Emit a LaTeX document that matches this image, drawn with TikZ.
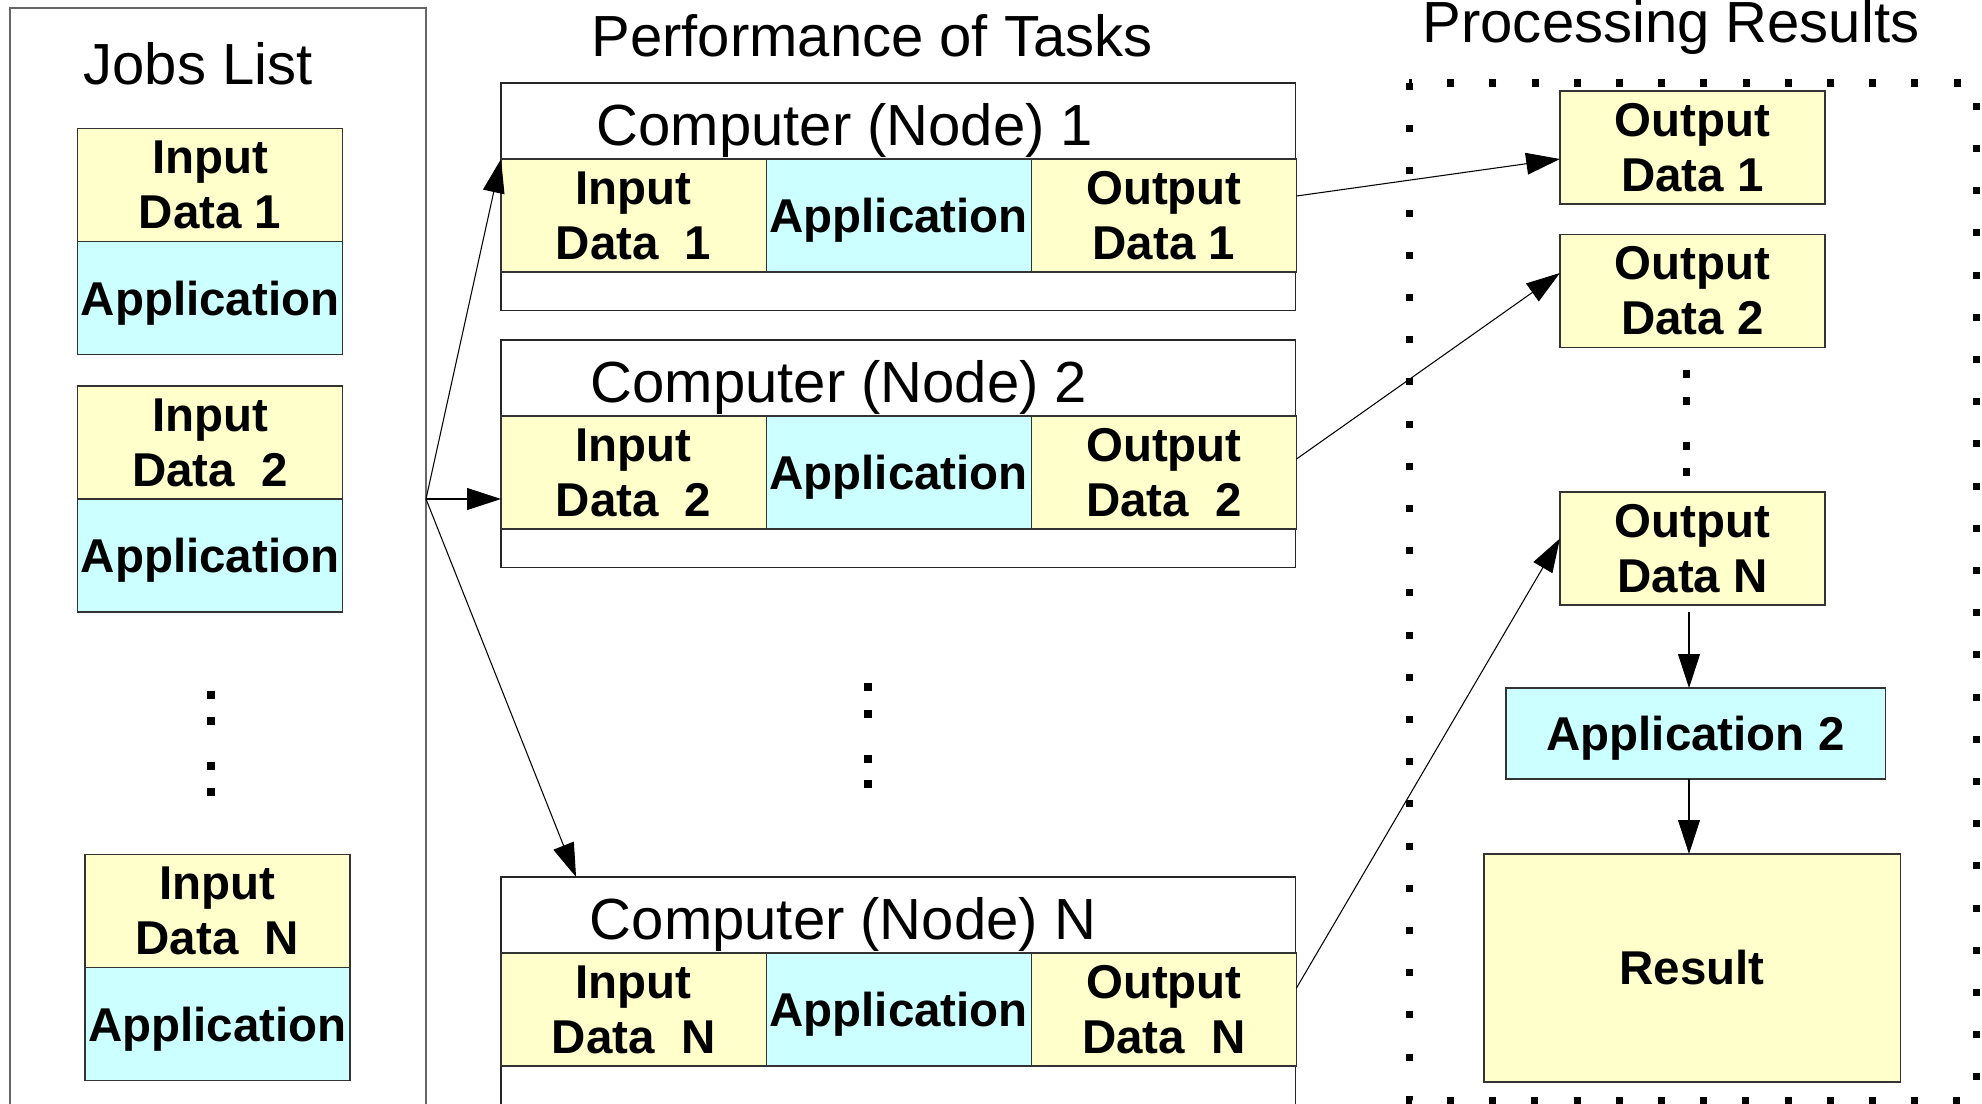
\documentclass[tikz,border=0pt]{standalone}
\usepackage{fontspec}
\setmainfont{Liberation Sans}
\usetikzlibrary{arrows.meta,positioning}
\definecolor{paleyellow}{HTML}{FFFFCC}
\definecolor{paleturq}{HTML}{CCFFFF}

\begin{document}
\begin{tikzpicture}[x=0.01cm, y=-0.01cm,
  title/.style={font=\fontsize{16.5}{20}\selectfont, anchor=base, inner sep=0},
  cell/.style={draw=black!80, line width=0.35pt, inner sep=0, outer sep=0, align=center,
    minimum width=2.65cm, minimum height=1.13cm, font=\fontsize{13.5}{15.6}\selectfont\bfseries},
  datacell/.style={cell, fill=paleyellow},
  appcell/.style={cell, fill=paleturq, text depth=0pt},
  compbox/.style={draw=black!85, line width=0.35pt, inner sep=0, outer sep=0,
    minimum width=7.94cm, minimum height=2.27cm, anchor=north west},
  link/.style={line width=0.3pt, -{Triangle[length=9.6pt,width=6.2pt]}},
  pip/.style={fill=black, inner sep=0, minimum size=2pt}]

\useasboundingbox (0,0) rectangle (1982,1103);
\clip (0,0) rectangle (1982,1103);
\fill[white] (0,0) rectangle (1982,1103);

% jobs list on the left
\draw[gray!80!black, line width=0.4pt] (10,8) rectangle (426,1140);
\node[title] (jobstitle) at (198,84) {Jobs List};

\node[datacell] (job1in) at (210,185) {Input\\Data 1};
\node[appcell, below=0pt of job1in] (job1app) {Application};

\node[datacell] (job2in) at (210,442.5) {Input\\Data~~2};
\node[appcell, below=0pt of job2in] (job2app) {Application};

\path (211,695) node[pip]{} (211,721) node[pip]{} (211,766) node[pip]{} (211,792) node[pip]{};

\node[datacell] (jobNin) at (217.5,911) {Input\\Data~~N};
\node[appcell, below=0pt of jobNin] (jobNapp) {Application};

% computers doing the work
\node[title] (perftitle) at (872,56) {Performance of Tasks};

\node[compbox] (comp1) at (501,83) {};
\node[title] (comp1title) at (845,145) {Computer (Node) 1};
\node[datacell, anchor=north west] (c1in) at (501,159) {Input\\Data~~1};
\node[appcell, right=0pt of c1in] (c1app) {Application};
\node[datacell, right=0pt of c1app] (c1out) {Output\\Data 1};

\node[compbox] (comp2) at (501,340) {};
\node[title] (comp2title) at (839,402) {Computer (Node) 2};
\node[datacell, anchor=north west] (c2in) at (501,416) {Input\\Data~~2};
\node[appcell, right=0pt of c2in] (c2app) {Application};
\node[datacell, right=0pt of c2app] (c2out) {Output\\Data~~2};

\path (868,687) node[pip]{} (868,714) node[pip]{} (868,759) node[pip]{} (868,784) node[pip]{};

\node[compbox] (compN) at (501,877) {};
\node[title] (compNtitle) at (843,939) {Computer (Node) N};
\node[datacell, anchor=north west] (cNin) at (501,953) {Input\\Data~~N};
\node[appcell, right=0pt of cNin] (cNapp) {Application};
\node[datacell, right=0pt of cNapp] (cNout) {Output\\Data~~N};

% results side
\node[title] (restitle) at (1671,42) {Processing Results};
\draw[line width=2pt, dash pattern=on 2pt off 10pt] (1409,83) rectangle (1976,1100);

\node[datacell] (out1) at (1692.5,147.5) {Output\\Data 1};
\node[datacell] (out2) at (1692.5,291) {Output\\Data 2};
\path (1686,374) node[pip]{} (1686,401) node[pip]{} (1686,446) node[pip]{} (1686,472) node[pip]{};
\node[datacell] (outN) at (1692.5,548.5) {Output\\Data N};
\node[appcell, minimum width=3.79cm, minimum height=0.91cm] (app2) at (1695.5,733.5) {Application 2};
\node[datacell, minimum width=4.16cm, minimum height=2.28cm] (result) at (1692,968) {Result};

% jobs handed out
\coordinate (fork) at (426,499);
\draw[link] (fork) -- (c1in.north west);
\draw[link] (fork) -- (fork -| comp2.west);
\draw[link] (fork) -- ([xshift=0.75cm]compN.north west);

% outputs collected
\draw[link] ([yshift=-0.37cm]c1out.north east) -- ([yshift=-0.115cm]out1.west);
\draw[link] ([yshift=-0.43cm]c2out.north east) -- ([yshift=0.18cm]out2.west);
\draw[link] ([yshift=-0.35cm]cNout.north east) -- ([yshift=0.1cm]outN.west);
\draw[link, shorten <=2pt] ([xshift=-0.035cm]outN.south) -- ([xshift=-0.035cm]outN.south |- app2.north);
\draw[link] ([xshift=-0.035cm]outN.south |- app2.south) -- ([xshift=-0.035cm]outN.south |- result.north);
\end{tikzpicture}
\end{document}
